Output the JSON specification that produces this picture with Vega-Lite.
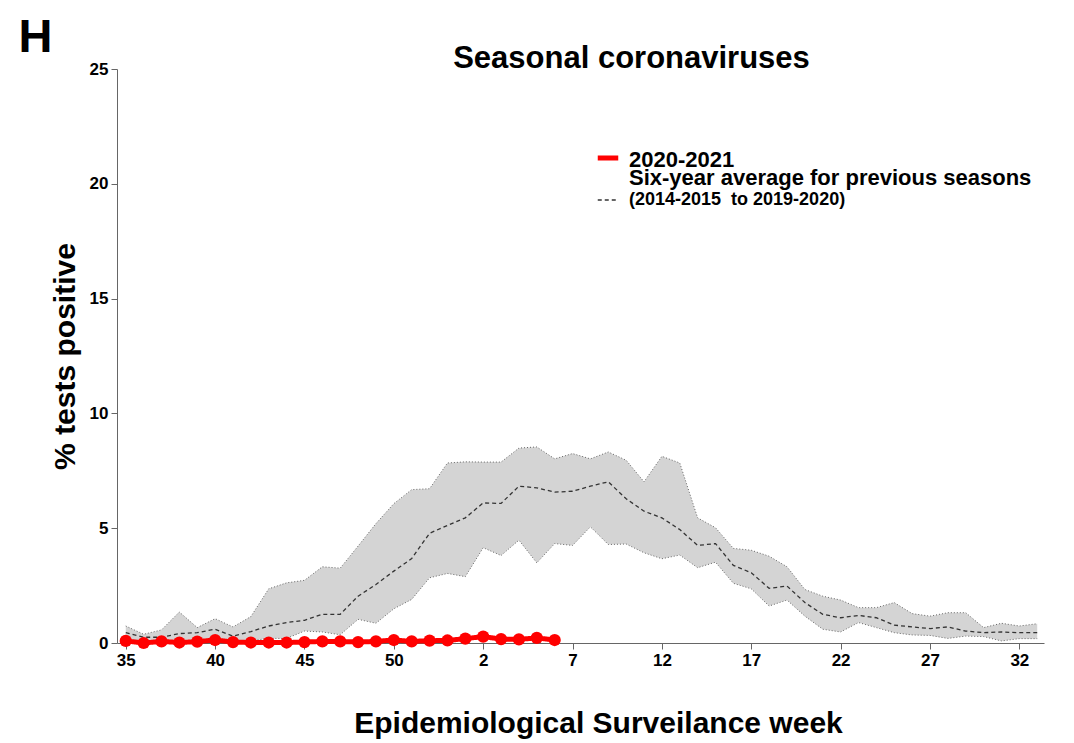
{
  "$schema": "https://vega.github.io/schema/vega-lite/v6.json",
  "width": 927,
  "height": 574,
  "autosize": {"type": "none"},
  "padding": {"left": 117, "top": 69, "right": 30, "bottom": 100},
  "background": "white",
  "config": {
    "font": "Liberation Sans",
    "view": {"stroke": null},
    "axis": {
      "grid": false,
      "domainColor": "#666666",
      "tickColor": "#666666",
      "tickSize": 6,
      "labelFont": "Liberation Sans",
      "labelFontSize": 17,
      "labelFontWeight": "bold",
      "labelColor": "black",
      "titleFont": "Liberation Sans",
      "titleFontWeight": "bold",
      "titleColor": "black"
    }
  },
  "title": {
    "text": "Seasonal coronaviruses",
    "font": "Liberation Sans",
    "fontSize": 31,
    "fontWeight": "bold",
    "color": "black",
    "anchor": "middle",
    "dx": 51,
    "dy": 50,
    "baseline": "alphabetic",
    "offset": -35
  },
  "data": {
    "values": [
      {"series": "avg", "i": 0, "week": 35, "pct": 0.45, "lo": 0.1, "hi": 0.74},
      {"series": "avg", "i": 1, "week": 36, "pct": 0.25, "lo": 0.0, "hi": 0.38},
      {"series": "avg", "i": 2, "week": 37, "pct": 0.25, "lo": 0.05, "hi": 0.57},
      {"series": "avg", "i": 3, "week": 38, "pct": 0.41, "lo": 0.05, "hi": 1.35},
      {"series": "avg", "i": 4, "week": 39, "pct": 0.45, "lo": 0.05, "hi": 0.67},
      {"series": "avg", "i": 5, "week": 40, "pct": 0.6, "lo": 0.05, "hi": 1.06},
      {"series": "avg", "i": 6, "week": 41, "pct": 0.3, "lo": 0.05, "hi": 0.7},
      {"series": "avg", "i": 7, "week": 42, "pct": 0.5, "lo": 0.1, "hi": 1.15},
      {"series": "avg", "i": 8, "week": 43, "pct": 0.74, "lo": 0.2, "hi": 2.36},
      {"series": "avg", "i": 9, "week": 44, "pct": 0.89, "lo": 0.2, "hi": 2.62},
      {"series": "avg", "i": 10, "week": 45, "pct": 0.99, "lo": 0.52, "hi": 2.73},
      {"series": "avg", "i": 11, "week": 46, "pct": 1.25, "lo": 0.48, "hi": 3.32},
      {"series": "avg", "i": 12, "week": 47, "pct": 1.25, "lo": 0.36, "hi": 3.26},
      {"series": "avg", "i": 13, "week": 48, "pct": 2.04, "lo": 1.03, "hi": 4.22},
      {"series": "avg", "i": 14, "week": 49, "pct": 2.55, "lo": 0.86, "hi": 5.2},
      {"series": "avg", "i": 15, "week": 50, "pct": 3.13, "lo": 1.49, "hi": 6.07},
      {"series": "avg", "i": 16, "week": 51, "pct": 3.68, "lo": 1.9, "hi": 6.68},
      {"series": "avg", "i": 17, "week": 52, "pct": 4.78, "lo": 2.84, "hi": 6.72},
      {"series": "avg", "i": 18, "week": 53, "pct": 5.12, "lo": 3.03, "hi": 7.84},
      {"series": "avg", "i": 19, "week": 1, "pct": 5.45, "lo": 2.89, "hi": 7.89},
      {"series": "avg", "i": 20, "week": 2, "pct": 6.1, "lo": 4.15, "hi": 7.88},
      {"series": "avg", "i": 21, "week": 3, "pct": 6.08, "lo": 3.81, "hi": 7.88},
      {"series": "avg", "i": 22, "week": 4, "pct": 6.83, "lo": 4.48, "hi": 8.49},
      {"series": "avg", "i": 23, "week": 5, "pct": 6.76, "lo": 3.49, "hi": 8.54},
      {"series": "avg", "i": 24, "week": 6, "pct": 6.57, "lo": 4.33, "hi": 8.02},
      {"series": "avg", "i": 25, "week": 7, "pct": 6.61, "lo": 4.25, "hi": 8.25},
      {"series": "avg", "i": 26, "week": 8, "pct": 6.83, "lo": 5.06, "hi": 8.02},
      {"series": "avg", "i": 27, "week": 9, "pct": 7.02, "lo": 4.29, "hi": 8.32},
      {"series": "avg", "i": 28, "week": 10, "pct": 6.28, "lo": 4.31, "hi": 7.96},
      {"series": "avg", "i": 29, "week": 11, "pct": 5.74, "lo": 3.93, "hi": 7.02},
      {"series": "avg", "i": 30, "week": 12, "pct": 5.45, "lo": 3.67, "hi": 8.13},
      {"series": "avg", "i": 31, "week": 13, "pct": 4.94, "lo": 3.83, "hi": 7.84},
      {"series": "avg", "i": 32, "week": 14, "pct": 4.25, "lo": 3.28, "hi": 5.45},
      {"series": "avg", "i": 33, "week": 15, "pct": 4.33, "lo": 3.52, "hi": 5.02},
      {"series": "avg", "i": 34, "week": 16, "pct": 3.38, "lo": 2.6, "hi": 4.12},
      {"series": "avg", "i": 35, "week": 17, "pct": 3.06, "lo": 2.36, "hi": 4.04},
      {"series": "avg", "i": 36, "week": 18, "pct": 2.38, "lo": 1.61, "hi": 3.78},
      {"series": "avg", "i": 37, "week": 19, "pct": 2.48, "lo": 1.87, "hi": 3.32},
      {"series": "avg", "i": 38, "week": 20, "pct": 1.76, "lo": 1.17, "hi": 2.33},
      {"series": "avg", "i": 39, "week": 21, "pct": 1.25, "lo": 0.6, "hi": 2.04},
      {"series": "avg", "i": 40, "week": 22, "pct": 1.1, "lo": 0.48, "hi": 1.87},
      {"series": "avg", "i": 41, "week": 23, "pct": 1.2, "lo": 0.89, "hi": 1.54},
      {"series": "avg", "i": 42, "week": 24, "pct": 1.1, "lo": 0.67, "hi": 1.54},
      {"series": "avg", "i": 43, "week": 25, "pct": 0.78, "lo": 0.45, "hi": 1.76},
      {"series": "avg", "i": 44, "week": 26, "pct": 0.7, "lo": 0.35, "hi": 1.28},
      {"series": "avg", "i": 45, "week": 27, "pct": 0.63, "lo": 0.33, "hi": 1.17},
      {"series": "avg", "i": 46, "week": 28, "pct": 0.7, "lo": 0.2, "hi": 1.32},
      {"series": "avg", "i": 47, "week": 29, "pct": 0.52, "lo": 0.3, "hi": 1.32},
      {"series": "avg", "i": 48, "week": 30, "pct": 0.45, "lo": 0.28, "hi": 0.67},
      {"series": "avg", "i": 49, "week": 31, "pct": 0.48, "lo": 0.09, "hi": 0.86},
      {"series": "avg", "i": 50, "week": 32, "pct": 0.45, "lo": 0.19, "hi": 0.74},
      {"series": "avg", "i": 51, "week": 33, "pct": 0.45, "lo": 0.19, "hi": 0.84},
      {"series": "2020-2021", "i": 0, "week": 35, "pct": 0.09},
      {"series": "2020-2021", "i": 1, "week": 36, "pct": 0.0},
      {"series": "2020-2021", "i": 2, "week": 37, "pct": 0.07},
      {"series": "2020-2021", "i": 3, "week": 38, "pct": 0.02},
      {"series": "2020-2021", "i": 4, "week": 39, "pct": 0.06},
      {"series": "2020-2021", "i": 5, "week": 40, "pct": 0.13},
      {"series": "2020-2021", "i": 6, "week": 41, "pct": 0.04},
      {"series": "2020-2021", "i": 7, "week": 42, "pct": 0.02},
      {"series": "2020-2021", "i": 8, "week": 43, "pct": 0.02},
      {"series": "2020-2021", "i": 9, "week": 44, "pct": 0.02},
      {"series": "2020-2021", "i": 10, "week": 45, "pct": 0.04},
      {"series": "2020-2021", "i": 11, "week": 46, "pct": 0.07},
      {"series": "2020-2021", "i": 12, "week": 47, "pct": 0.07},
      {"series": "2020-2021", "i": 13, "week": 48, "pct": 0.04},
      {"series": "2020-2021", "i": 14, "week": 49, "pct": 0.07},
      {"series": "2020-2021", "i": 15, "week": 50, "pct": 0.13},
      {"series": "2020-2021", "i": 16, "week": 51, "pct": 0.07},
      {"series": "2020-2021", "i": 17, "week": 52, "pct": 0.1},
      {"series": "2020-2021", "i": 18, "week": 53, "pct": 0.11},
      {"series": "2020-2021", "i": 19, "week": 1, "pct": 0.19},
      {"series": "2020-2021", "i": 20, "week": 2, "pct": 0.28},
      {"series": "2020-2021", "i": 21, "week": 3, "pct": 0.17},
      {"series": "2020-2021", "i": 22, "week": 4, "pct": 0.16},
      {"series": "2020-2021", "i": 23, "week": 5, "pct": 0.22},
      {"series": "2020-2021", "i": 24, "week": 6, "pct": 0.13}
    ]
  },
  "encoding": {
    "x": {
      "field": "i",
      "type": "quantitative",
      "scale": {"domain": [-0.49, 51.38], "nice": false, "zero": false},
      "axis": {
        "values": [0, 5, 10, 15, 20, 25, 30, 35, 40, 45, 50],
        "labelExpr": "datum.value <= 18 ? datum.value + 35 : datum.value - 18",
        "labelPadding": 3,
        "labelFlush": false,
        "title": "Epidemiological Surveilance week",
        "titleFontSize": 30,
        "titlePadding": 40,
        "titleX": 481
      }
    }
  },
  "layer": [
    {
      "transform": [{"filter": "datum.series == 'avg'"}],
      "mark": {"type": "area", "color": "#d4d4d4", "opacity": 1},
      "encoding": {
        "y": {
          "field": "lo",
          "type": "quantitative",
          "scale": {"domain": [0, 25], "nice": false},
          "axis": {
            "values": [0, 5, 10, 15, 20, 25],
            "title": "% tests positive",
            "titleFontSize": 30,
            "titlePadding": 9,
            "labelPadding": 3
          }
        },
        "y2": {"field": "hi"}
      }
    },
    {
      "transform": [{"filter": "datum.series == 'avg'"}],
      "mark": {"type": "line", "color": "#666666", "strokeWidth": 1, "strokeDash": [1, 2]},
      "encoding": {"y": {"field": "lo", "type": "quantitative"}}
    },
    {
      "transform": [{"filter": "datum.series == 'avg'"}],
      "mark": {"type": "line", "color": "#666666", "strokeWidth": 1, "strokeDash": [1, 2]},
      "encoding": {"y": {"field": "hi", "type": "quantitative"}}
    },
    {
      "mark": {"type": "line"},
      "encoding": {
        "y": {"field": "pct", "type": "quantitative"},
        "color": {
          "field": "series",
          "type": "nominal",
          "scale": {"domain": ["2020-2021", "avgtitle", "avg"], "range": ["#ff0000", "transparent", "#333333"]},
          "legend": {
            "orient": "none",
            "legendX": 478,
            "legendY": 76,
            "title": null,
            "symbolType": "stroke",
            "symbolSize": 420,
            "labelFont": "Liberation Sans",
            "labelFontSize": 22,
            "labelFontWeight": "bold",
            "labelColor": "black",
            "labelOffset": 8,
            "labelLimit": 700,
            "rowPadding": -7,
            "padding": 0,
            "labelExpr": "datum.label == 'avgtitle' ? 'Six-year average for previous seasons' : datum.label == 'avg' ? '(2014-2015\u00a0 to 2019-2020)' : datum.label",
            "encode": {
              "labels": {
                "update": {
                  "fontSize": {"signal": "datum.value == 'avg' ? 18 : 22"},
                  "dy": {"signal": "datum.value == 'avg' ? 0 : datum.value == '2020-2021' ? 2 : -4"}
                }
              }
            }
          }
        },
        "strokeDash": {
          "field": "series",
          "type": "nominal",
          "scale": {"type": "ordinal", "domain": ["2020-2021", "avgtitle", "avg"], "range": [[1, 0], [1, 0], [4, 3]]}
        },
        "strokeWidth": {
          "field": "series",
          "type": "nominal",
          "scale": {"type": "ordinal", "domain": ["2020-2021", "avgtitle", "avg"], "range": [5, 0, 1.3]}
        }
      }
    },
    {
      "transform": [{"filter": "datum.series == '2020-2021'"}],
      "mark": {"type": "circle", "color": "#ff0000", "size": 150, "opacity": 1},
      "encoding": {"y": {"field": "pct", "type": "quantitative"}}
    },
    {
      "data": {"values": [{"label": "H", "px": -6.0, "py": 25.75}]},
      "mark": {"type": "text", "font": "Liberation Sans", "fontSize": 47, "fontWeight": "bold", "align": "left", "baseline": "alphabetic", "color": "black"},
      "encoding": {
        "x": {"field": "px", "type": "quantitative"},
        "y": {"field": "py", "type": "quantitative"},
        "text": {"field": "label"}
      }
    }
  ]
}
